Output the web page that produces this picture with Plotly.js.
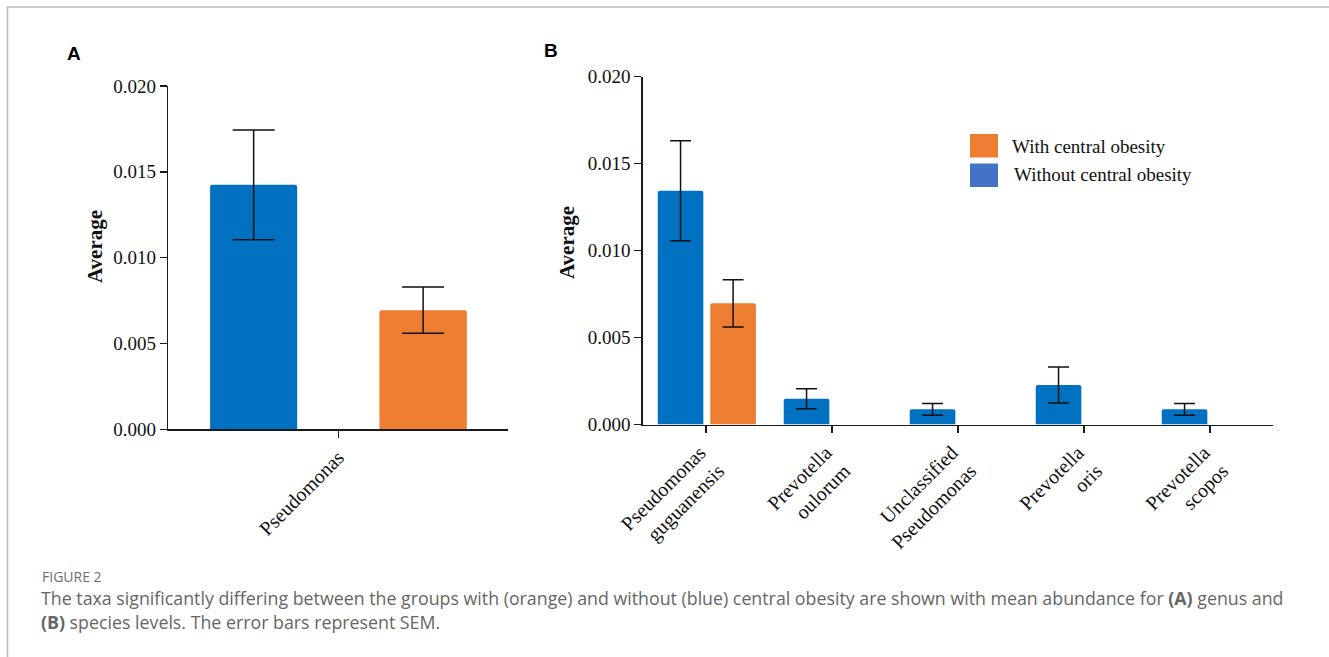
<!DOCTYPE html>
<html>
<head>
<meta charset="utf-8">
<script src="https://cdn.plot.ly/plotly-3.0.1.min.js"></script>
<style>
  html, body { margin: 0; padding: 0; background: #ffffff; }
  #chart { width: 1329px; height: 657px; }
</style>
</head>
<body>
<div id="chart"></div>
<script>
// ---- Data ----
const genusCategories = ['Pseudomonas'];
const genusWithout = [0.01424];
const genusWithoutSem = [0.0032];
const genusWith = [0.00694];
const genusWithSem = [0.00135];

const speciesCategories = [
  'Pseudomonas<br>guguanensis',
  'Prevotella<br>oulorum',
  'Unclassified<br>Pseudomonas',
  'Prevotella<br>oris',
  'Prevotella<br>scopos'
];
const speciesWithout = [0.01344, 0.00148, 0.00087, 0.00227, 0.00087];
const speciesWithoutSem = [0.00287, 0.00057, 0.00034, 0.00104, 0.00034];
const speciesWith = [0.00697, null, null, null, null];
const speciesWithSem = [0.00136, null, null, null, null];

const seriesNames = ['With central obesity', 'Without central obesity'];
const yTickVals = [0, 0.005, 0.010, 0.015, 0.020];

const captionHead = 'FIGURE 2';
const captionLine1 = 'The taxa significantly differing between the groups with (orange) and without (blue) central obesity are shown with mean abundance for <b>(A)</b> genus and';
const captionLine2 = '<b>(B)</b> species levels. The error bars represent SEM.';

// ---- Styling ----
const W = 1329, H = 657;
const BLUE = '#0070C0';
const ORANGE = '#ED7D31';
const LEGEND_BLUE = '#4472C4';
const AXIS = '#1a1a1a';
const SERIF = 'Liberation Serif, Times New Roman, serif';
const SANS = 'Open Sans, sans-serif';
const fx = px => px / W;
const fy = py => 1 - py / H;

function errBar(arr, capHalf) {
  return { type: 'data', array: arr, visible: true, color: '#111111', thickness: 1.5, width: capHalf };
}

const traces = [
  { type: 'bar', name: seriesNames[1], x: genusCategories, y: genusWithout, xaxis: 'x', yaxis: 'y',
    marker: { color: BLUE, cornerradius: 2 }, width: 0.256, offset: -0.377,
    error_y: errBar(genusWithoutSem, 21), showlegend: false, hoverinfo: 'y' },
  { type: 'bar', name: seriesNames[0], x: genusCategories, y: genusWith, xaxis: 'x', yaxis: 'y',
    marker: { color: ORANGE, cornerradius: 2 }, width: 0.257, offset: 0.121,
    error_y: errBar(genusWithSem, 21), showlegend: false, hoverinfo: 'y' },
  { type: 'bar', name: seriesNames[1], x: speciesCategories, y: speciesWithout, xaxis: 'x2', yaxis: 'y2',
    marker: { color: BLUE, cornerradius: 2 }, width: 0.362, offset: -0.383,
    error_y: errBar(speciesWithoutSem, 10.5), showlegend: false, hoverinfo: 'y' },
  { type: 'bar', name: seriesNames[0], x: speciesCategories, y: speciesWith, xaxis: 'x2', yaxis: 'y2',
    marker: { color: ORANGE, cornerradius: 2 }, width: 0.362, offset: 0.034,
    error_y: errBar(speciesWithSem, 10.5), showlegend: false, hoverinfo: 'y' }
];

const yTickFont = { family: SERIF, size: 19, color: '#111111' };
const xTickFont = { family: SERIF, size: 20, color: '#111111' };
function xAxis(domain, anchor, n, shift) {
  return { domain: domain, anchor: anchor, type: 'category', range: [-0.5, n - 0.5],
    showline: true, linecolor: AXIS, linewidth: 1.6, ticks: 'outside', ticklen: 7, tickwidth: 1.5,
    tickcolor: AXIS, tickangle: -45, tickfont: xTickFont, showgrid: false, zeroline: false, fixedrange: true,
    ticklabelshift: shift };
}
function yAxis(domain, anchor) {
  return { domain: domain, anchor: anchor, range: [0, 0.02], tickmode: 'array', tickvals: yTickVals,
    tickformat: '.3f', showline: true, linecolor: AXIS, linewidth: 1.6, ticks: 'outside', ticklen: 7,
    tickwidth: 1.5, tickcolor: AXIS, tickfont: yTickFont, showgrid: false, zeroline: false, fixedrange: true,
    ticklabelstandoff: 0 };
}

const annotations = [
  { text: '<b>A</b>', x: fx(73.5), y: fy(53.5), xref: 'paper', yref: 'paper', showarrow: false,
    xanchor: 'center', yanchor: 'middle', font: { family: 'Liberation Sans, Arial, sans-serif', size: 19, color: '#000' } },
  { text: '<b>B</b>', x: fx(550.5), y: fy(50), xref: 'paper', yref: 'paper', showarrow: false,
    xanchor: 'center', yanchor: 'middle', font: { family: 'Liberation Sans, Arial, sans-serif', size: 19, color: '#000' } },
  { text: '<b>Average</b>', x: fx(95), y: fy(247), xref: 'paper', yref: 'paper', showarrow: false,
    textangle: -90, xanchor: 'center', yanchor: 'middle', font: { family: SERIF, size: 21, color: '#111' } },
  { text: '<b>Average</b>', x: fx(567), y: fy(243), xref: 'paper', yref: 'paper', showarrow: false,
    textangle: -90, xanchor: 'center', yanchor: 'middle', font: { family: SERIF, size: 21, color: '#111' } },
  { text: seriesNames[0], x: fx(1010), y: fy(146), xref: 'paper', yref: 'paper', showarrow: false,
    xanchor: 'left', yanchor: 'middle', font: { family: SERIF, size: 19, color: '#111' } },
  { text: seriesNames[1], x: fx(1012), y: fy(175), xref: 'paper', yref: 'paper', showarrow: false,
    xanchor: 'left', yanchor: 'middle', font: { family: SERIF, size: 19, color: '#111' } },
  { text: captionHead, x: fx(40), y: fy(576), xref: 'paper', yref: 'paper', showarrow: false,
    xanchor: 'left', yanchor: 'middle', font: { family: SANS, size: 14, color: '#6f6f6f' } },
  { text: captionLine1, x: fx(39), y: fy(598), xref: 'paper', yref: 'paper', showarrow: false,
    xanchor: 'left', yanchor: 'middle', font: { family: SANS, size: 17.8, color: '#666666' } },
  { text: captionLine2, x: fx(39), y: fy(622), xref: 'paper', yref: 'paper', showarrow: false,
    xanchor: 'left', yanchor: 'middle', font: { family: SANS, size: 17.8, color: '#666666' } }
];

const shapes = [
  { type: 'path', xref: 'paper', yref: 'paper',
    path: `M ${fx(7.5)} ${fy(657)} L ${fx(7.5)} ${fy(7)} L ${fx(1329)} ${fy(7)}`,
    line: { color: '#bdbdbd', width: 1.6 } },
  { type: 'rect', xref: 'paper', yref: 'paper', x0: fx(970), x1: fx(998), y0: fy(134), y1: fy(157.5),
    fillcolor: ORANGE, line: { width: 0 } },
  { type: 'rect', xref: 'paper', yref: 'paper', x0: fx(970), x1: fx(998), y0: fy(163.5), y1: fy(187),
    fillcolor: LEGEND_BLUE, line: { width: 0 } }
];

const layout = {
  width: W, height: H,
  margin: { l: 0, r: 0, t: 0, b: 0, pad: 0 },
  paper_bgcolor: '#ffffff', plot_bgcolor: '#ffffff',
  barmode: 'overlay',
  showlegend: false,
  xaxis: xAxis([fx(168.3), fx(508.3)], 'y', 1, 0),
  yaxis: yAxis([fy(429.3), fy(86)], 'x'),
  xaxis2: xAxis([fx(643), fx(1273)], 'y2', 5, -6),
  yaxis2: yAxis([fy(424.5), fy(76.7)], 'x2'),
  annotations: annotations,
  shapes: shapes
};

Plotly.newPlot('chart', traces, layout, { displayModeBar: false, staticPlot: true });
</script>
</body>
</html>
